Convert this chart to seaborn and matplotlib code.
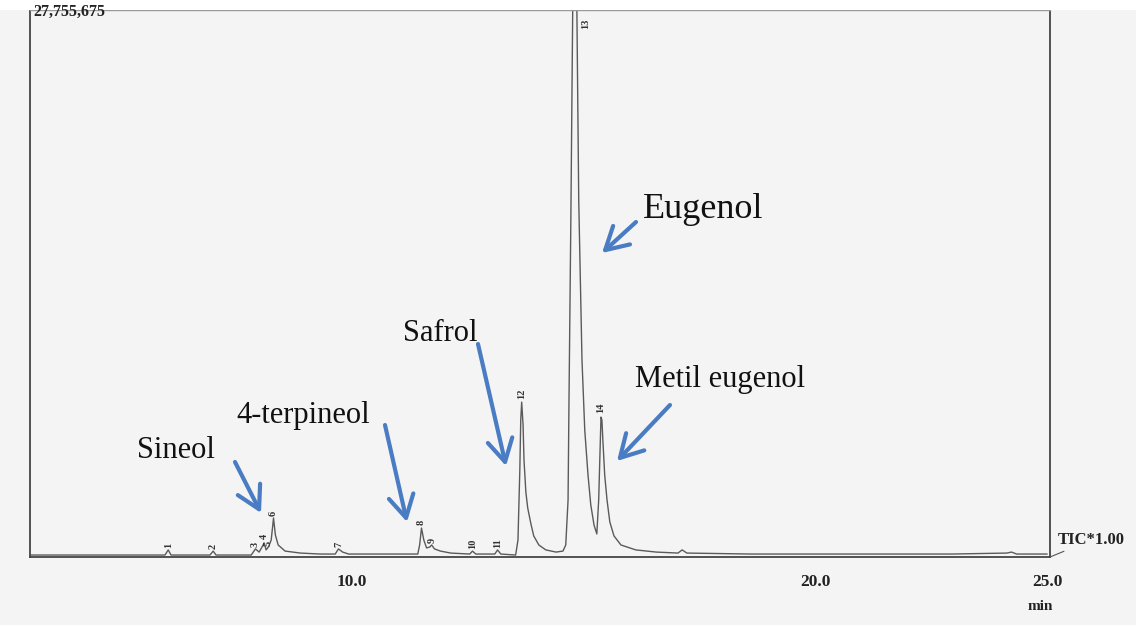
import matplotlib
matplotlib.use("Agg")
import matplotlib.pyplot as plt
import seaborn as sns
import pandas as pd
from matplotlib.ticker import FixedLocator

# ---------------- data ----------------
# retention time (min) and TIC intensity (millions of counts)
time_min = [3.07, 4.58, 5.98, 6.05, 6.11, 6.95, 7.02, 7.08, 7.84, 7.93, 8.01, 8.12,
            8.16, 8.21, 8.27, 8.32, 8.36, 8.42, 8.57, 8.90, 9.33, 9.65, 9.72, 9.81,
            9.94, 10.63, 11.43, 11.47, 11.51, 11.56, 11.62, 11.69, 11.73, 11.79, 11.92,
            12.14, 12.55, 12.61, 12.68, 13.09, 13.15, 13.22, 13.54, 13.59, 13.63, 13.65,
            13.67, 13.70, 13.72, 13.76, 13.80, 13.87, 13.93, 14.04, 14.19, 14.41, 14.56,
            14.62, 14.67, 14.69, 14.73, 14.77, 14.82, 14.86, 14.90, 14.97, 15.03, 15.10,
            15.16, 15.23, 15.29, 15.33, 15.36, 15.38, 15.40, 15.42, 15.46, 15.51, 15.57,
            15.66, 15.81, 16.13, 16.57, 17.04, 17.13, 17.23, 18.62, 20.78, 22.94, 24.13,
            24.23, 24.34, 25.0]
intensity_M = [0.10, 0.10, 0.10, 0.36, 0.10, 0.10, 0.30, 0.10, 0.10, 0.41, 0.25, 0.71,
               0.36, 0.51, 0.86, 1.98, 1.12, 0.61, 0.30, 0.20, 0.15, 0.15, 0.41, 0.25,
               0.15, 0.15, 0.15, 0.61, 1.47, 0.86, 0.46, 0.51, 0.61, 0.41, 0.30,
               0.20, 0.15, 0.30, 0.15, 0.15, 0.36, 0.15, 0.10, 0.86, 4.41, 6.95,
               7.86, 6.70, 4.92, 3.30, 2.49, 1.67, 1.07, 0.61, 0.36, 0.25, 0.30,
               0.61, 2.89, 7.97, 17.10, 27.76, 32.0, 27.76, 18.11, 10.00, 6.44, 4.16,
               2.64, 1.62, 1.17, 2.89, 5.43, 7.10, 6.95, 5.94, 4.16, 2.89, 1.78,
               1.07, 0.61, 0.36, 0.25, 0.20, 0.36, 0.20, 0.15, 0.15, 0.15, 0.20,
               0.25, 0.15, 0.15]

# peak number labels (position of label, time / intensity in millions)
peak_numbers = ["1", "2", "3", "4", "5", "6", "7", "8", "9", "10", "11", "12", "13", "14"]
peak_label_t = [6.05, 7.02, 7.93, 8.12, 8.21, 8.32, 9.72, 11.51, 11.75, 12.61, 13.15, 13.67, 15.05, 15.38]
peak_label_y = [0.45, 0.40, 0.50, 0.90, 0.55, 2.10, 0.50, 1.60, 0.70, 0.40, 0.45, 8.00, 26.8, 7.30]

y_max_label = "27,755,675"
y_max_M = 27.755675
x_tick_values = [10.0, 20.0, 25.0]
x_tick_labels = ["10.0", "20.0", "25.0"]
x_minor_values = [4, 5, 6, 7, 8, 9, 11, 12, 13, 14, 15, 16, 17, 18, 19, 21, 22, 23, 24]

# compound annotations
compounds = ["Sineol", "4-terpineol", "Safrol", "Eugenol", "Metil eugenol"]

# ---------------- figure ----------------
sns.set_style("white")
plt.rcParams["font.family"] = ["Liberation Serif", "DejaVu Serif"]

W, H = 1136, 625
fig = plt.figure(figsize=(W / 100, H / 100), dpi=100, facecolor="#f4f4f4")
# white strip at the very top (scan edge)
fig.patches.append(plt.Rectangle((0, 1 - 10 / H), 1, 10 / H, transform=fig.transFigure,
                                 facecolor="white", edgecolor="none", zorder=0))

ax = fig.add_axes([30 / W, (H - 557) / H, 1020 / W, 547 / H])
ax.set_facecolor("#f4f4f4")

df = pd.DataFrame({"t": time_min, "I": intensity_M})
sns.lineplot(data=df, x="t", y="I", ax=ax, estimator=None, sort=False,
             color="#5a5a5a", lw=1.0)

ax.set_xlim(3.07, 25.06)
ax.set_ylim(0, y_max_M)
ax.set_xlabel("")
ax.set_ylabel("")
ax.set_yticks([])
ax.xaxis.set_major_locator(FixedLocator(x_tick_values))
ax.set_xticklabels(x_tick_labels, fontsize=12.5, fontweight="bold", color="#222222")
ax.xaxis.set_minor_locator(FixedLocator(x_minor_values))
ax.tick_params(axis="x", which="major", direction="out", length=9, width=1.0,
               color="#444444", pad=3)
ax.tick_params(axis="x", which="minor", direction="inout", length=6, width=0.9,
               color="#555555")

for side in ["left", "bottom", "right"]:
    ax.spines[side].set_color("#444444")
    ax.spines[side].set_linewidth(1.3)
ax.spines["top"].set_color("#9a9a9a")
ax.spines["top"].set_linewidth(1.0)

# peak numbers
for lab, t, y in zip(peak_numbers, peak_label_t, peak_label_y):
    ax.text(t, y, lab, rotation=90, ha="center", va="bottom", fontsize=7.5,
            fontweight="bold", color="#333333", clip_on=True)

# y max label
fig.text(33 / W, 1 - 4 / H, y_max_label, ha="left", va="top", fontsize=11.5,
         fontweight="bold", color="#222222")

# "min" under 25.0
fig.text(1040 / W, 1 - 607 / H, "min", ha="center", va="center", fontsize=11,
         fontweight="bold", color="#222222")

# TIC label with leader line
ax.annotate("TIC*1.00", xy=(1050, H - 557), xycoords="figure pixels",
            xytext=(1058, H - 540), textcoords="figure pixels",
            ha="left", va="center", fontsize=12, fontweight="bold", color="#222222",
            arrowprops=dict(arrowstyle="-", lw=0.8, color="#555555",
                            shrinkA=0, shrinkB=0))

# compound annotations (positions in figure pixels, measured from top)
blue = "#4a7cc4"
text_pos = [(137, 450), (236, 416), (403, 333), (643, 209), (635, 380)]
text_size = [22, 22, 22, 26, 22]
arrow_tail = [(235, 462), (385, 425), (478, 344), (636, 222), (670, 405)]
arrow_head = [(261, 513), (407, 522), (506, 466), (602, 253), (617, 461)]
for name, (tx, ty), fs, (ax0, ay0), (ax1, ay1) in zip(compounds, text_pos, text_size,
                                                      arrow_tail, arrow_head):
    fig.text(tx / W, 1 - ty / H, name, ha="left", va="center", fontsize=fs,
             color="#111111")
    fig.add_artist(matplotlib.patches.FancyArrowPatch(
        (ax0 / W, 1 - ay0 / H), (ax1 / W, 1 - ay1 / H), transform=fig.transFigure,
        arrowstyle="->,head_length=8,head_width=4.5", lw=3, color=blue,
        mutation_scale=2, shrinkA=0, shrinkB=0))

fig.savefig("out.png", dpi=100, facecolor=fig.get_facecolor())
